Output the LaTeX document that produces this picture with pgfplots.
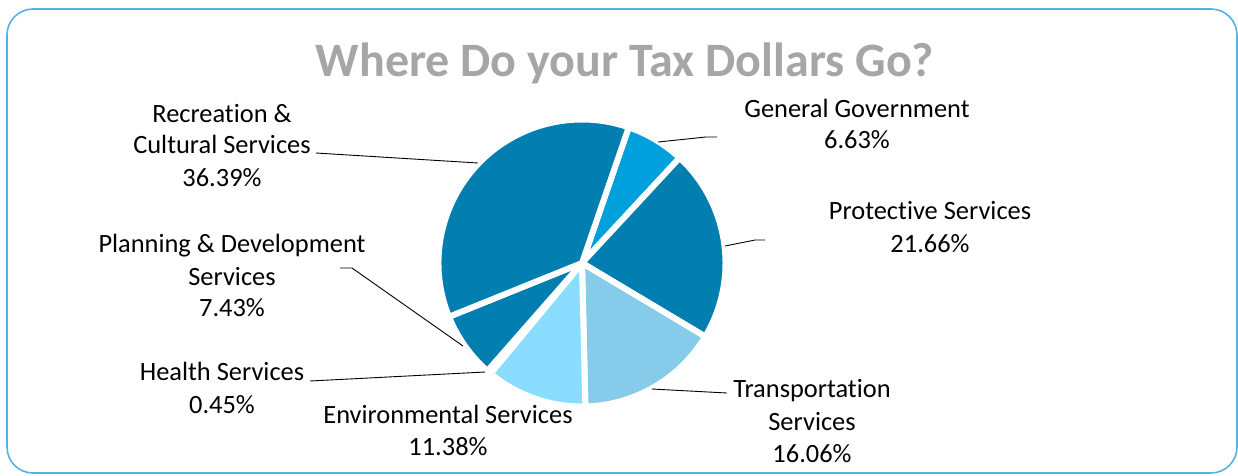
\documentclass[border=0pt]{standalone}
\usepackage{pgfplots}
\pgfplotsset{compat=1.18}
\usepackage{pgfplotstable}
\usepackage{fontspec}
\setmainfont{Carlito}[Ligatures={NoCommon}]

\definecolor{cDark}{RGB}{2,126,177}
\definecolor{cGen}{RGB}{0,160,220}
\definecolor{cTrans}{RGB}{135,203,235}
\definecolor{cEnv}{RGB}{139,221,255}
\definecolor{cHealth}{RGB}{205,238,255}
\definecolor{titlegray}{RGB}{166,166,166}
\definecolor{frameblue}{RGB}{86,177,227}

% share of the budget, clockwise from the first slice
\pgfplotstableread[col sep=comma]{
name,value,color
General Government,6.63,cGen
Protective Services,21.66,cDark
Transportation Services,16.06,cTrans
Environmental Services,11.38,cEnv
Health Services,0.45,cHealth
Planning & Development Services,7.43,cDark
Recreation & Cultural Services,36.39,cDark
}\piedata

\begin{document}
\begin{tikzpicture}
\begin{axis}[
    x=1pt, y=1pt,
    xmin=0, xmax=1238, ymin=0, ymax=475,
    y dir=reverse,
    hide axis,
    clip=false,
]
    % frame
    \draw[frameblue, line width=1.6pt, rounded corners=26pt]
        (axis cs:7,9) rectangle (axis cs:1237,473);

    % slices
    \def\acc{0}
    \pgfplotsforeachungrouped \i in {0,...,6} {
        \pgfplotstablegetelem{\i}{value}\of\piedata \let\v\pgfplotsretval
        \pgfplotstablegetelem{\i}{color}\of\piedata \let\c\pgfplotsretval
        \pgfmathsetmacro{\a}{71-3.6*\acc}
        \pgfmathsetmacro{\b}{71-3.6*(\acc+\v)}
        \edef\temp{\noexpand\fill[\c, draw=white, line width=6pt, line join=round]
            (axis cs:582,263) -- ++(\a:143.5pt) arc[start angle=\a, end angle=\b, radius=143.5pt] -- cycle;}
        \temp
        \pgfmathsetmacro{\acc}{\acc+\v}
    }

    % leader lines
    \draw[black, line width=0.9pt] (axis cs:658,142) -- (axis cs:706,137) -- (axis cs:717,137);
    \draw[black, line width=0.9pt] (axis cs:725,246) -- (axis cs:755,240) -- (axis cs:765,240);
    \draw[black, line width=0.9pt] (axis cs:652,389) -- (axis cs:727,393);
    \draw[black, line width=0.9pt] (axis cs:310,381) -- (axis cs:485,372);
    \draw[black, line width=0.9pt] (axis cs:340,268) -- (axis cs:352,268) -- (axis cs:463,346);
    \draw[black, line width=0.9pt] (axis cs:316,153) -- (axis cs:478,163);

    % title
    \node[anchor=base, inner sep=0pt, text=titlegray, font=\fontsize{48}{56}\selectfont\bfseries]
        at (axis cs:625,76) {Where Do your Tax Dollars Go?};

    % labels
    \tikzset{lbl/.style={anchor=base, inner sep=0pt, font=\fontsize{26.4}{31}\selectfont}}
    \node[lbl] at (axis cs:857,117) {General Government};
    \node[lbl] at (axis cs:857,148) {6.63\%};
    \node[lbl] at (axis cs:930,219) {Protect\kern0pt ive Services};
    \node[lbl] at (axis cs:930,252) {21.66\%};
    \node[lbl] at (axis cs:812,397) {Transportat\kern0pt ion};
    \node[lbl] at (axis cs:812,430) {Services};
    \node[lbl] at (axis cs:812,462) {16.06\%};
    \node[lbl] at (axis cs:448,423) {Environmental Services};
    \node[lbl] at (axis cs:448,455) {11.38\%};
    \node[lbl] at (axis cs:222,380) {Health Services};
    \node[lbl] at (axis cs:222,413) {0.45\%};
    \node[lbl] at (axis cs:232,252) {Planning \& Development};
    \node[lbl] at (axis cs:232,285) {Services};
    \node[lbl] at (axis cs:232,316) {7.43\%};
    \node[lbl] at (axis cs:222,122) {Recreation \&};
    \node[lbl] at (axis cs:222,153) {Cultural Services};
    \node[lbl] at (axis cs:222,186) {36.39\%};
\end{axis}
\pgfresetboundingbox
\path (0,0) rectangle (1238pt,475pt);
\end{tikzpicture}
\end{document}
